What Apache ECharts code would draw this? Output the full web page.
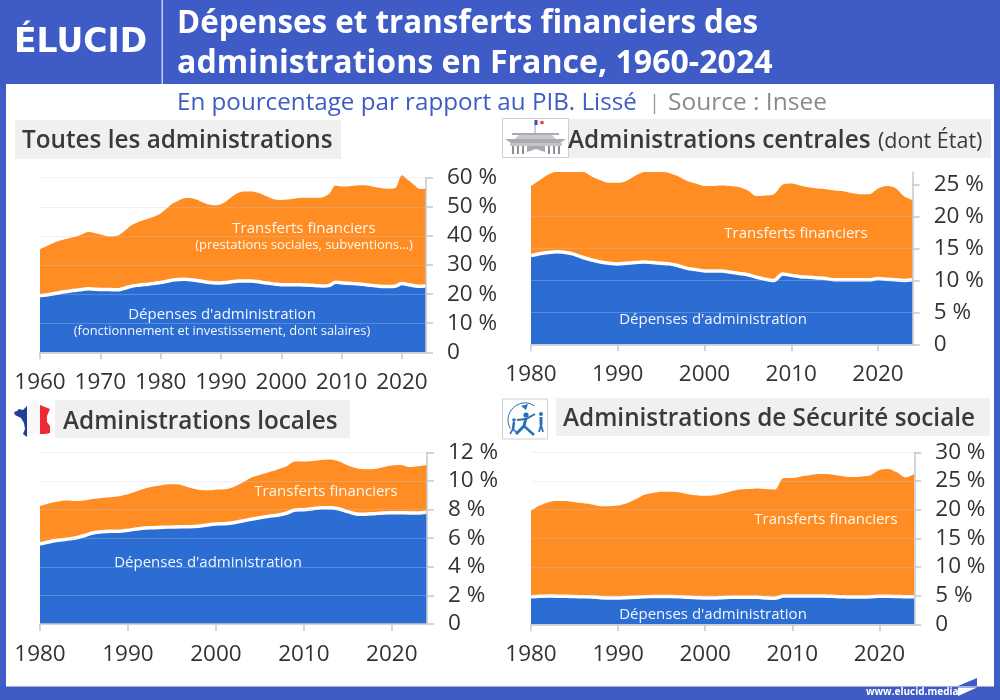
<!DOCTYPE html>
<html lang="fr">
<head>
<meta charset="utf-8">
<title>Dépenses et transferts financiers des administrations en France, 1960-2024</title>
<style>html,body{margin:0;padding:0;background:#fff}#c{width:1000px;height:700px}</style>
<script src="https://cdn.jsdelivr.net/npm/echarts@6/dist/echarts.min.js"></script>
</head>
<body>
<div id="c"></div>
<script>
const yearsLong = ['1960','1961','1962','1963','1964','1965','1966','1967','1968','1969','1970','1971','1972','1973','1974','1975','1976','1977','1978','1979','1980','1981','1982','1983','1984','1985','1986','1987','1988','1989','1990','1991','1992','1993','1994','1995','1996','1997','1998','1999','2000','2001','2002','2003','2004','2005','2006','2007','2008','2009','2010','2011','2012','2013','2014','2015','2016','2017','2018','2019','2020','2021','2022','2023','2024'];
const yearsShort = yearsLong.slice(20);

const toutesDepenses = [19.4,19.7,20.0,20.4,20.8,21.1,21.3,21.6,21.8,21.7,21.6,21.6,21.5,21.5,22.0,22.6,23.0,23.2,23.4,23.7,24.0,24.4,24.8,25.0,25.1,24.9,24.7,24.3,24.0,23.8,23.8,24.0,24.3,24.5,24.5,24.5,24.3,24.0,23.7,23.4,23.2,23.2,23.2,23.2,23.1,23.0,22.9,22.8,23.0,24.1,23.9,23.7,23.6,23.5,23.2,23.0,22.8,22.6,22.6,22.8,23.6,23.3,22.9,22.7,22.9];
const toutesTransferts = [16.1,16.7,17.4,17.8,18.0,18.2,18.5,19.0,19.5,19.3,18.9,18.4,18.3,18.7,19.7,20.8,21.5,22.1,22.6,23.0,23.7,25.0,26.3,27.2,27.8,28.1,27.7,27.2,26.8,26.7,27.1,28.1,29.4,30.4,30.8,30.8,30.6,30.1,29.5,29.1,29.1,29.3,29.6,29.8,30.0,30.1,30.2,30.6,31.6,33.2,33.1,33.3,33.6,33.9,34.2,34.0,33.8,33.7,33.6,33.8,37.2,35.9,34.7,33.4,33.4];

const centralesDepenses = [13.9,14.2,14.4,14.5,14.4,14.1,13.6,13.2,12.9,12.7,12.6,12.7,12.8,12.9,12.8,12.7,12.6,12.3,11.9,11.7,11.5,11.5,11.5,11.3,11.1,10.9,10.5,10.2,10.0,11.0,10.8,10.6,10.5,10.4,10.3,10.1,10.1,10.1,10.1,10.1,10.3,10.2,10.1,10.0,10.1];
const centralesTransferts = [10.9,11.5,12.2,12.6,12.9,13.2,13.5,13.1,12.8,12.6,12.7,12.9,13.6,14.1,14.4,14.4,14.2,14.0,13.7,13.5,13.3,13.3,13.4,13.5,13.5,13.2,12.7,13.1,13.5,14.0,14.4,14.3,14.1,14.0,14.0,14.0,13.9,13.6,13.4,13.4,14.1,14.6,14.4,13.2,12.5];

const localesDepenses = [5.59,5.73,5.85,5.92,6.01,6.17,6.36,6.45,6.48,6.48,6.55,6.64,6.71,6.73,6.76,6.78,6.80,6.80,6.83,6.92,6.99,7.01,7.08,7.20,7.32,7.43,7.53,7.60,7.74,7.97,7.99,8.06,8.13,8.13,8.04,7.85,7.69,7.67,7.71,7.76,7.78,7.78,7.76,7.76,7.81];
const localesTransferts = [2.66,2.70,2.72,2.72,2.59,2.47,2.38,2.36,2.37,2.44,2.51,2.63,2.77,2.89,2.96,2.98,2.92,2.73,2.56,2.42,2.40,2.40,2.50,2.68,2.91,2.98,3.07,3.19,3.26,3.38,3.36,3.33,3.33,3.36,3.31,3.22,3.19,3.14,3.12,3.19,3.29,3.33,3.21,3.26,3.30];

const securiteDepenses = [4.8,4.9,4.95,4.9,4.9,4.85,4.8,4.75,4.65,4.6,4.6,4.65,4.7,4.8,4.85,4.85,4.85,4.8,4.7,4.65,4.6,4.6,4.65,4.7,4.7,4.7,4.7,4.6,4.55,4.95,4.95,4.95,4.95,4.95,4.9,4.85,4.8,4.75,4.75,4.8,4.9,4.9,4.85,4.8,4.8];
const securiteTransferts = [15.0,15.8,16.35,16.6,16.6,16.45,16.3,16.15,15.95,16.0,16.1,16.45,17.1,17.8,18.05,18.25,18.25,18.2,18.0,17.85,17.8,17.9,18.15,18.5,18.8,18.9,19.0,19.0,18.95,20.55,20.55,20.85,21.05,21.25,21.3,21.15,21.0,20.95,21.05,21.2,22.0,22.2,21.65,20.8,21.4];

const FONT = '"Open Sans", Lato, sans-serif';
const BLUE = '#2b6dd3', ORANGE = '#ff8d24', FRAME = '#3f5bc6', INK = '#333333', AXIS = '#c6c8cc';

const panels = [
  {cats: yearsLong,  dep: toutesDepenses,    tra: toutesTransferts,    max: 60, step: 10, left: 40,  right: 426, top: 177.7, bottom: 352.3, clip: false, every: 10},
  {cats: yearsShort, dep: centralesDepenses, tra: centralesTransferts, max: 27, step: 5,  left: 531, right: 912.7, top: 172, bottom: 344.3, clip: true, every: 10, topTick: 25},
  {cats: yearsShort, dep: localesDepenses,   tra: localesTransferts,   max: 12, step: 2,  left: 40,  right: 427, top: 452.3, bottom: 624, clip: false, every: 10},
  {cats: yearsShort, dep: securiteDepenses,  tra: securiteTransferts,  max: 30, step: 5,  left: 531, right: 914.3, top: 452.3, bottom: 624.3, clip: false, every: 10}
];

const grid = [], xAxis = [], yAxis = [], series = [];
panels.forEach((p, i) => {
  grid.push({left: p.left, width: p.right - p.left, top: p.top, height: p.bottom - p.top, containLabel: false});
  const show = idx => Number(p.cats[idx]) % p.every === 0;
  xAxis.push({
    type: 'category', gridIndex: i, data: p.cats, boundaryGap: false, z: 4,
    axisLine: {show: true, lineStyle: {color: AXIS, width: 1.5}},
    axisTick: {show: true, length: 7, interval: show, lineStyle: {color: AXIS, width: 1.5}},
    axisLabel: {interval: show, color: INK, fontFamily: FONT, fontSize: 22.5, margin: 19},
    splitLine: {show: false}
  });
  const y = {
    type: 'value', gridIndex: i, position: 'right', min: 0, max: p.max, interval: p.step, z: 4,
    axisLine: {show: true, lineStyle: {color: AXIS, width: 1.5}},
    axisTick: {show: true, length: 7, lineStyle: {color: AXIS, width: 1.5}},
    axisLabel: {color: INK, fontFamily: FONT, fontSize: 22.5, margin: 21, padding: [6, 0, 0, 0], formatter: v => v === 0 ? '0' : v + ' %'},
    splitLine: {show: true, showMaxLine: !p.topTick, lineStyle: {color: 'rgba(196,204,226,0.3)', width: 1.2}}
  };
  if (p.topTick) {
    const vals = [];
    for (let v = 0; v <= p.topTick; v += p.step) vals.push(v);
    y.axisTick.customValues = vals;
    y.axisLabel.customValues = vals;
  }
  yAxis.push(y);
  const base = {type: 'line', xAxisIndex: i, yAxisIndex: i, stack: 'p' + i, symbol: 'none', showSymbol: false,
    smooth: 0.3, clip: p.clip, silent: true, areaStyle: {opacity: 1}};
  series.push(Object.assign({}, base, {name: "Dépenses d'administration", data: p.dep, z: 3,
    itemStyle: {color: BLUE}, areaStyle: {color: BLUE, opacity: 1}, lineStyle: {color: '#ffffff', width: 3.5}}));
  series.push(Object.assign({}, base, {name: 'Transferts financiers', data: p.tra, z: 2,
    itemStyle: {color: ORANGE}, areaStyle: {color: ORANGE, opacity: 1}, lineStyle: {color: ORANGE, width: 0}}));
});

const rect = (x, y, w, h, fill, extra) => Object.assign({type: 'rect', shape: {x, y, width: w, height: h}, style: {fill}, silent: true}, extra || {});
const poly = (points, fill) => ({type: 'polygon', shape: {points}, style: {fill}, silent: true});
const circle = (cx, cy, r, fill) => ({type: 'circle', shape: {cx, cy, r}, style: {fill}, silent: true});
const stroke = (points, color, w) => ({type: 'polyline', shape: {points}, style: {stroke: color, lineWidth: w, fill: null}, silent: true});
const text = (x, y, t, size, fill, weight, align, family) => ({type: 'text', x, y, z: 20, silent: true,
  style: {text: t, fontFamily: family || FONT, fontSize: size, fontWeight: weight || 400, fill, textAlign: align || 'left', textVerticalAlign: 'middle'}});

const LABEL = '#fff8ee', TITLE = '#3a3a3c', BAND = '#f0f0f1', GREY = '#a9abb0', PALE = '#8d9096', FIG = '#2a70b8';

const graphic = [
  // Frame
  rect(0, 0, 1000, 84, FRAME), rect(0, 84, 6, 616, FRAME), rect(994, 84, 6, 616, FRAME), rect(0, 686.5, 1000, 13.5, FRAME),
  rect(161.5, 0, 1.5, 84, '#c4cdee'),
  // Logo
  text(14, 43, 'ÉLUCID', 33, '#ffffff', 700, 'left', '"DejaVu Sans", sans-serif'),
  // Titles
  text(177, 24, 'Dépenses et transferts financiers des', 31.3, '#ffffff', 700),
  text(177, 64, 'administrations en France, 1960-2024', 32.1, '#ffffff', 700),
  text(177, 103, 'En pourcentage par rapport au PIB. Lissé', 24.2, FRAME),
  text(649, 103, '|', 20, '#9a9a9a'),
  text(668, 103, 'Source : Insee', 24.5, '#8a8a8a'),
  // Panel headings
  rect(15, 120, 326, 39, BAND), text(22, 141, 'Toutes les administrations', 24.3, TITLE, 600),
  rect(568, 119, 423, 39, BAND), text(568, 141, 'Administrations centrales', 24.3, TITLE, 600), text(878, 142, '(dont État)', 21.5, TITLE, 400),
  rect(55, 400, 295, 38, BAND), text(63, 422, 'Administrations locales', 24.3, TITLE, 600),
  rect(556, 398, 434, 38, BAND), text(563, 419, 'Administrations de Sécurité sociale', 24.3, TITLE, 600),
  // Chart annotations
  text(304, 228.5, 'Transferts financiers', 15, LABEL, 500, 'center'),
  text(304, 245, '(prestations sociales, subventions…)', 13, LABEL, 400, 'center'),
  text(222, 314.5, "Dépenses d'administration", 15, '#f2f6ff', 500, 'center'),
  text(222, 331.5, '(fonctionnement et investissement, dont salaires)', 12.9, '#f2f6ff', 400, 'center'),
  text(796, 233.5, 'Transferts financiers', 15, LABEL, 500, 'center'),
  text(713, 319.5, "Dépenses d'administration", 15, '#f2f6ff', 500, 'center'),
  text(326, 491.5, 'Transferts financiers', 15, LABEL, 500, 'center'),
  text(208, 562.5, "Dépenses d'administration", 15, '#f2f6ff', 500, 'center'),
  text(826, 519.5, 'Transferts financiers', 15, LABEL, 500, 'center'),
  text(713, 614.5, "Dépenses d'administration", 15, '#f2f6ff', 500, 'center'),
  // Palace icon
  {type: 'rect', shape: {x: 502.5, y: 118.5, width: 66, height: 39}, style: {fill: '#ffffff', stroke: '#cfcfd2', lineWidth: 1}, silent: true},
  rect(534.5, 124, 1, 10, '#9a9da3'), rect(534.5, 120, 3, 5, '#3b4fa8'), rect(538, 120, 2, 5, '#f3f3f6'), circle(542, 122.5, 1.8, '#e5383b'),
  rect(512, 133, 47, 2, GREY), poly([[519,135],[552,135],[556,139],[515,139]], '#c6c8cc'),
  poly([[505,139],[566,139],[560,143],[511,143]], GREY),
  poly([[510,143],[562,143],[562,146],[510,146]], '#c2c4c8'),
  rect(512, 146, 2, 8, PALE), rect(517, 146, 2, 8, PALE), rect(522, 146, 2, 8, PALE),
  rect(548, 146, 2, 8, PALE), rect(553, 146, 2, 8, PALE), rect(558, 146, 2, 8, PALE),
  poly([[527,146],[545,146],[545,152],[536,149],[527,152]], GREY),
  // France flag icon
  poly([[27,406],[23,410],[19,409],[17,411],[14,412],[15,415],[21,418],[24,423],[25,429],[23,434],[27,437]], '#1f3f94'),
  poly([[27,406],[32,402],[35,400],[40,405],[40,434],[36,432],[32,436],[27,437]], '#f7f7fa'),
  poly([[40,405],[45,407],[50,409],[47,416],[47,422],[50,426],[50,433],[45,434],[40,434]], '#ee2a35'),
  // Social security icon
  {type: 'rect', shape: {x: 502.5, y: 399, width: 45, height: 40}, style: {fill: '#ffffff', stroke: '#cfcfd2', lineWidth: 1}, silent: true},
  {type: 'arc', shape: {cx: 525, cy: 420, r: 17, startAngle: 2.6, endAngle: 5.3}, style: {stroke: FIG, lineWidth: 1, fill: null}, silent: true},
  circle(526, 415, 2.6, FIG), stroke([[526,418],[524,426],[516,434]], FIG, 3), stroke([[524,426],[534,435]], FIG, 2.5), stroke([[517,420],[526,419],[535,414]], FIG, 2),
  circle(514, 420, 1.8, FIG), stroke([[514,422],[513,429]], FIG, 2.5), stroke([[513,429],[510,434]], FIG, 1.6), stroke([[513,429],[517,433]], FIG, 1.6),
  circle(541, 414, 2, FIG), stroke([[541,417],[541,425]], FIG, 3), stroke([[541,425],[539,432]], FIG, 1.8), stroke([[541,425],[543,432]], FIG, 1.8),
  poly([[521,406],[528,404],[526,410]], FIG),
  // Footer
  text(866, 692, 'www.elucid.media', 10, '#ffffff', 700),
  poly([[958,686],[977,678],[977,686]], FRAME),
  poly([[958,687.5],[977,687.5],[958,696]], '#ffffff')
];

const chart = echarts.init(document.getElementById('c'), null, {renderer: 'canvas', width: 1000, height: 700});
chart.setOption({animation: false, backgroundColor: '#ffffff', tooltip: {show: false}, legend: {show: false}, grid, xAxis, yAxis, series, graphic});
</script>
</body>
</html>
